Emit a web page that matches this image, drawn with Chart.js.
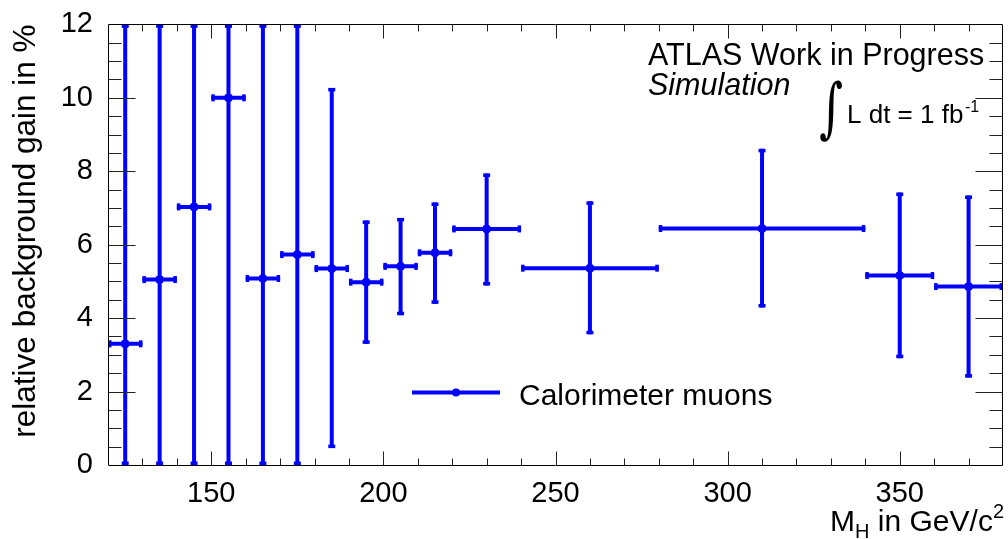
<!DOCTYPE html>
<html><head><meta charset="utf-8">
<script src="https://cdn.jsdelivr.net/npm/chart.js@4"></script>
<style>html,body{margin:0;padding:0;background:#fff;}canvas{display:block;}</style>
</head><body>
<canvas id="c" width="1008" height="539"></canvas>
<script>
// ---- data ----
const massCenters   = [125, 135, 145, 155, 165, 175, 185, 195, 205, 215, 230, 260, 310, 350, 370];
const binHalfWidths = [5, 5, 5, 5, 5, 5, 5, 5, 5, 5, 10, 20, 30, 10, 10];
const gainValues    = [3.30, 5.05, 7.03, 10.00, 5.08, 5.73, 5.35, 4.98, 5.41, 5.78, 6.43, 5.36, 6.44, 5.16, 4.86];
const errUpperEnd   = [12, 12, 12, 12, 12, 12, 10.27, 6.66, 6.73, 7.15, 7.94, 7.18, 8.61, 7.42, 7.34];
const errLowerEnd   = [0, 0, 0, 0, 0, 0, 0.46, 3.30, 4.08, 4.39, 4.89, 3.56, 4.29, 2.91, 2.38];
const xTickLabels   = [150, 200, 250, 300, 350];
const yTickLabels   = [0, 2, 4, 6, 8, 10, 12];
const xRange = [120, 380];
const yRange = [0, 12];
const seriesName = 'Calorimeter muons';

const BLUE = '#0000ff';
const FONT = '"Liberation Sans", Arial, Helvetica, sans-serif';

const errorBarPlugin = {
  id: 'errorBars',
  beforeDatasetsDraw(chart) {
    const {ctx, chartArea: a, scales: {x, y}} = chart;
    ctx.save();
    ctx.beginPath();
    ctx.rect(a.left, a.top, a.right - a.left, a.bottom - a.top);
    ctx.clip();
    ctx.strokeStyle = BLUE; ctx.fillStyle = BLUE; ctx.lineWidth = 4; ctx.lineCap = 'butt';
    for (let i = 0; i < massCenters.length; i++) {
      const px = x.getPixelForValue(massCenters[i]);
      const py = y.getPixelForValue(gainValues[i]);
      const xl = x.getPixelForValue(massCenters[i] - binHalfWidths[i]);
      const xr = x.getPixelForValue(massCenters[i] + binHalfWidths[i]);
      const yt = y.getPixelForValue(errUpperEnd[i]);
      const yb = y.getPixelForValue(errLowerEnd[i]);
      ctx.beginPath(); ctx.moveTo(xl, py); ctx.lineTo(xr, py); ctx.stroke();
      ctx.beginPath(); ctx.moveTo(px, yt); ctx.lineTo(px, yb); ctx.stroke();
      // end caps
      ctx.fillRect(xl, py - 3.5, 3.5, 7);
      ctx.fillRect(xr - 3.5, py - 3.5, 3.5, 7);
      ctx.fillRect(px - 3.5, yt, 7, 3.5);
      ctx.fillRect(px - 3.5, yb - 3.5, 7, 3.5);
    }
    ctx.restore();
  }
};

const framePlugin = {
  id: 'frame',
  afterDatasetsDraw(chart) {
    const {ctx, chartArea: a, scales: {x, y}} = chart;
    ctx.save();
    ctx.strokeStyle = '#000'; ctx.lineWidth = 1;
    const L = Math.round(a.left) + 0.5, R = Math.round(a.right) - 0.5;
    const T = Math.round(a.top) + 0.5, B = Math.round(a.bottom) + 0.5;
    ctx.beginPath();
    ctx.moveTo(L, T); ctx.lineTo(R, T); ctx.lineTo(R, B); ctx.lineTo(L, B); ctx.closePath();
    ctx.stroke();
    ctx.strokeStyle = '#222';
    ctx.beginPath();
    for (let v = 130; v < xRange[1]; v += 10) {
      const major = v % 50 === 0;
      const len = major ? 14 : 7;
      const px = Math.round(x.getPixelForValue(v)) + 0.5;
      ctx.moveTo(px, B); ctx.lineTo(px, B - len);
      ctx.moveTo(px, T); ctx.lineTo(px, T + len);
    }
    for (let k = 1; k < 24; k++) {
      const v = k * 0.5;
      const major = k % 4 === 0;
      const len = major ? 27 : 13;
      const py = Math.round(y.getPixelForValue(v)) + 0.5;
      ctx.moveTo(L, py); ctx.lineTo(L + len, py);
      ctx.moveTo(R, py); ctx.lineTo(R - len, py);
    }
    ctx.stroke();
    ctx.restore();
  },
  afterDraw(chart) {
    const {ctx} = chart;
    ctx.save();
    ctx.fillStyle = '#000';
    ctx.textBaseline = 'alphabetic';
    ctx.textAlign = 'left';
    const big = '30px ' + FONT, small = '20px ' + FONT;
    ctx.font = big; const wM = ctx.measureText('M').width; const wMid = ctx.measureText(' in GeV/c').width;
    ctx.font = small; const wH = ctx.measureText('H').width; const w2 = ctx.measureText('2').width;
    let xs = 1004 - (wM + wH + wMid + w2);
    const base = 531;
    ctx.font = big; ctx.fillText('M', xs, base); xs += wM;
    ctx.font = small; ctx.fillText('H', xs, base + 7); xs += wH;
    ctx.font = big; ctx.fillText(' in GeV/c', xs, base); xs += wMid;
    ctx.font = small; ctx.fillText('2', xs, base - 13);

    ctx.font = '30.5px ' + FONT;
    ctx.fillText('ATLAS Work in Progress', 648, 65);
    ctx.font = 'italic 30.5px ' + FONT;
    ctx.fillText('Simulation', 648, 95);
    ctx.font = '60px "DejaVu Serif", serif';
    const m = ctx.measureText('\u222B');
    const h = m.actualBoundingBoxAscent + m.actualBoundingBoxDescent;
    const s = 62 / h;
    ctx.save();
    ctx.translate(820, 80);
    ctx.scale(s * 0.7, s);
    ctx.fillText('\u222B', m.actualBoundingBoxLeft, m.actualBoundingBoxAscent);
    ctx.restore();
    ctx.font = '26px ' + FONT;
    ctx.fillText('L dt = 1 fb', 847, 123);
    ctx.font = '16px ' + FONT;
    ctx.fillText('-1', 965, 112);

    ctx.strokeStyle = BLUE; ctx.fillStyle = BLUE; ctx.lineWidth = 4;
    ctx.beginPath(); ctx.moveTo(412, 392.5); ctx.lineTo(500, 392.5); ctx.stroke();
    ctx.beginPath(); ctx.arc(456, 392.5, 4, 0, Math.PI * 2); ctx.fill();
    ctx.fillStyle = '#000';
    ctx.font = '30px ' + FONT;
    ctx.fillText(seriesName, 519, 405);
    ctx.restore();
  }
};

new Chart(document.getElementById('c'), {
  type: 'scatter',
  data: {
    datasets: [{
      label: seriesName,
      data: massCenters.map((m, i) => ({x: m, y: gainValues[i]})),
      backgroundColor: BLUE,
      borderColor: BLUE,
      pointRadius: 4,
      pointHoverRadius: 4,
      showLine: false
    }]
  },
  options: {
    responsive: false,
    animation: false,
    devicePixelRatio: 1,
    layout: {padding: {left: 0, right: 2, top: 19, bottom: 0}},
    plugins: {legend: {display: false}, tooltip: {enabled: false}},
    scales: {
      x: {
        type: 'linear', min: xRange[0], max: xRange[1],
        grid: {display: false}, border: {display: false},
        afterBuildTicks: (sc) => { sc.ticks = xTickLabels.map(v => ({value: v})); },
        afterFit: (sc) => { sc.height = 74; },
        ticks: {font: {family: FONT, size: 29}, color: '#000', padding: 4, maxRotation: 0, autoSkip: false}
      },
      y: {
        type: 'linear', min: yRange[0], max: yRange[1],
        grid: {display: false}, border: {display: false},
        afterBuildTicks: (sc) => { sc.ticks = yTickLabels.map(v => ({value: v})); },
        afterFit: (sc) => { sc.width = 108; },
        ticks: {font: {family: FONT, size: 29}, color: '#000', padding: 7},
        title: {display: true, text: 'relative background gain in %', align: 'end',
                font: {family: FONT, size: 31.5}, color: '#000', padding: {top: 7, bottom: 0}}
      }
    }
  },
  plugins: [errorBarPlugin, framePlugin]
});
</script>
</body></html>
